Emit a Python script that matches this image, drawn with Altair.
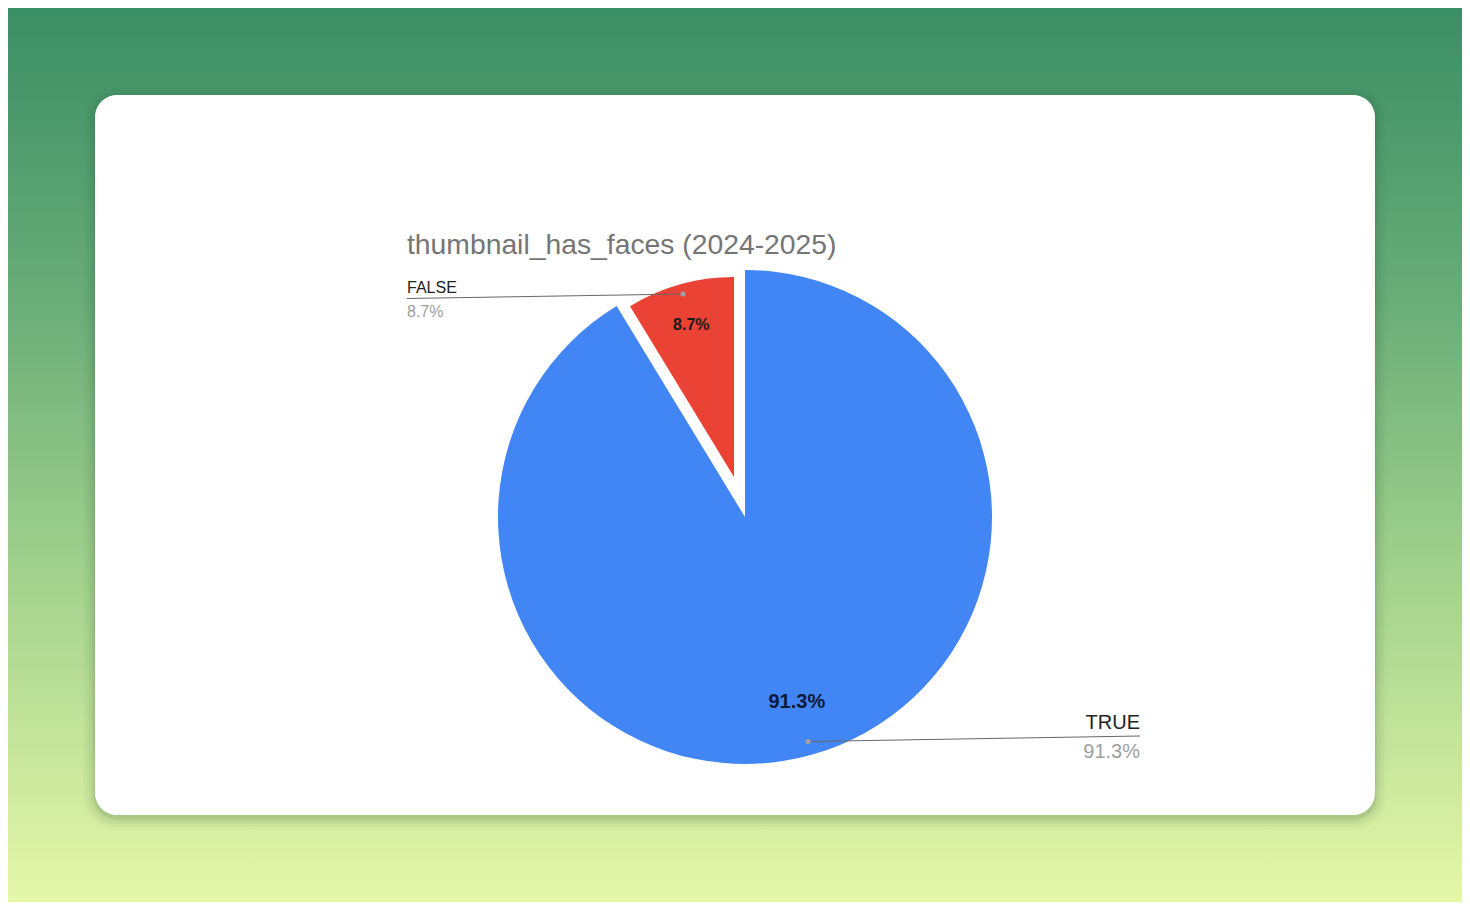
import altair as alt
import pandas as pd

# ---- data ----
categories = ["TRUE", "FALSE"]
shares = [91.3, 8.7]
slice_colors = ["#4285f4", "#ea4335"]
title_text = "thumbnail_has_faces (2024-2025)"

W, H = 1454, 894
FONT = "Liberation Sans"

df = pd.DataFrame({"cat": categories, "share": shares, "order": list(range(len(categories)))})
one = pd.DataFrame({"k": [0]})

theta_scale = alt.Scale(domain=[0, 1], range=[0, 6.283185307179586])
color_scale = alt.Scale(domain=categories, range=slice_colors)

base = (
    alt.Chart(df)
    .transform_joinaggregate(total="sum(share)")
    .transform_window(cum="sum(share)", sort=[alt.SortField("order")], frame=[None, 0])
    .transform_calculate(
        start="(datum.cum - datum.share) / datum.total",
        end="datum.cum / datum.total",
        mid="(datum.cum - datum.share / 2) / datum.total",
        pct="format(datum.share / datum.total, '.1%')",
    )
)

# ---- background gradient & card ----
bg = alt.Chart(one).mark_rect(
    color=alt.Gradient(
        gradient="linear",
        stops=[
            alt.GradientStop(color="#3a8e65", offset=0),
            alt.GradientStop(color="#6aad78", offset=0.33),
            alt.GradientStop(color="#9fd08c", offset=0.62),
            alt.GradientStop(color="#e6f7a8", offset=1),
        ],
        x1=0, x2=0, y1=0, y2=1,
    )
).encode(x=alt.value(0), x2=alt.value(W), y=alt.value(0), y2=alt.value(H))

shadows = []
for grow, op in [(12, 0.025), (9, 0.03), (6, 0.045), (3, 0.06), (1, 0.08)]:
    shadows.append(
        alt.Chart(one).mark_rect(color="#1e4a2a", opacity=op, cornerRadius=22 + grow).encode(
            x=alt.value(87 - grow), x2=alt.value(1367 + grow),
            y=alt.value(87 - grow + 3), y2=alt.value(807 + grow + 3),
        )
    )

card = alt.Chart(one).mark_rect(color="#ffffff", cornerRadius=22).encode(
    x=alt.value(87), x2=alt.value(1367), y=alt.value(87), y2=alt.value(807)
)

title = alt.Chart(one).mark_text(
    text=title_text, align="left", baseline="alphabetic", font=FONT, fontSize=28.3, color="#757575"
).encode(x=alt.value(399), y=alt.value(246))

# ---- pie ----
CX, CY, R = 737, 509, 247
FCX, FCY, FR = 726, 469, 200

arc_true = base.transform_filter("datum.cat == 'TRUE'").mark_arc(outerRadius=R).encode(
    theta=alt.Theta("start:Q", scale=theta_scale, stack=None),
    theta2="end:Q",
    color=alt.Color("cat:N", scale=color_scale, legend=None),
    x=alt.value(CX), y=alt.value(CY),
)
arc_false = base.transform_filter("datum.cat == 'FALSE'").mark_arc(outerRadius=FR).encode(
    theta=alt.Theta("start:Q", scale=theta_scale, stack=None),
    theta2="end:Q",
    color=alt.Color("cat:N", scale=color_scale, legend=None),
    x=alt.value(FCX), y=alt.value(FCY),
)

in_true = base.transform_filter("datum.cat == 'TRUE'").mark_text(
    radius=192, font=FONT, fontSize=20, fontWeight="bold", color="#0d1b3a", baseline="middle"
).encode(
    theta=alt.Theta("mid:Q", scale=theta_scale, stack=None),
    text="pct:N", x=alt.value(CX), y=alt.value(CY),
)
in_false = base.transform_filter("datum.cat == 'FALSE'").mark_text(
    radius=158, font=FONT, fontSize=16, fontWeight="bold", color="#1a1a1a", baseline="middle"
).encode(
    theta=alt.Theta("mid:Q", scale=theta_scale, stack=None),
    text="pct:N", x=alt.value(FCX), y=alt.value(FCY),
)

# ---- leader labels ----
f_line = alt.Chart(one).mark_rule(color="#666666", strokeWidth=1).encode(
    x=alt.value(399), y=alt.value(290.5), x2=alt.value(675), y2=alt.value(286)
)
t_line = alt.Chart(one).mark_rule(color="#666666", strokeWidth=1).encode(
    x=alt.value(1132), y=alt.value(728), x2=alt.value(800), y2=alt.value(733.5)
)
f_dot = alt.Chart(one).mark_point(filled=True, size=26, color="#a0a0a0", opacity=1).encode(
    x=alt.value(675), y=alt.value(286)
)
t_dot = alt.Chart(one).mark_point(filled=True, size=26, color="#a0a0a0", opacity=1).encode(
    x=alt.value(800), y=alt.value(733.5)
)

f_name = base.transform_filter("datum.cat == 'FALSE'").mark_text(
    align="left", baseline="alphabetic", font=FONT, fontSize=16, color="#222222"
).encode(text="cat:N", x=alt.value(399), y=alt.value(285))
f_pct = base.transform_filter("datum.cat == 'FALSE'").mark_text(
    align="left", baseline="alphabetic", font=FONT, fontSize=16, color="#9e9e9e"
).encode(text="pct:N", x=alt.value(399), y=alt.value(309))

t_name = base.transform_filter("datum.cat == 'TRUE'").mark_text(
    align="right", baseline="alphabetic", font=FONT, fontSize=20, color="#222222"
).encode(text="cat:N", x=alt.value(1132), y=alt.value(721))
t_pct = base.transform_filter("datum.cat == 'TRUE'").mark_text(
    align="right", baseline="alphabetic", font=FONT, fontSize=20, color="#9e9e9e"
).encode(text="pct:N", x=alt.value(1132), y=alt.value(750))

chart = alt.layer(
    bg, *shadows, card, title, arc_true, arc_false, in_true, in_false,
    f_line, t_line, f_dot, t_dot, f_name, f_pct, t_name, t_pct,
).properties(
    width=W, height=H, padding=0, autosize="none", background="#ffffff"
).configure_view(stroke=None)

chart.save("out.html", embed_options={"renderer": "svg", "actions": False})
